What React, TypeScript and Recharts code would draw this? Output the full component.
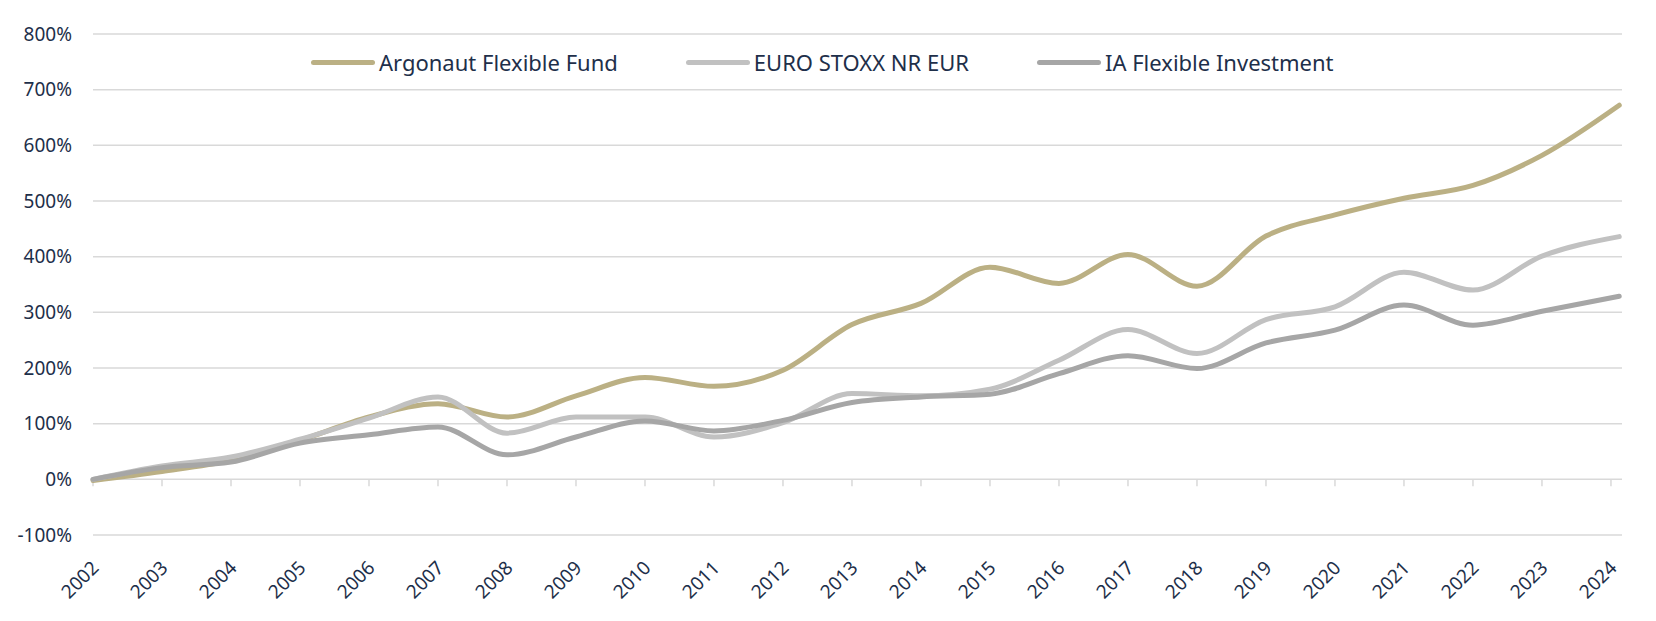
import {
  LineChart,
  Line,
  XAxis,
  YAxis,
  CartesianGrid,
  Legend,
  ReferenceLine,
} from "recharts";

// x position of each reading (last reading is early 2024)
const years = [
  2002, 2003, 2004, 2005, 2006, 2007, 2008, 2009, 2010, 2011, 2012, 2013,
  2014, 2015, 2016, 2017, 2018, 2019, 2020, 2021, 2022, 2023, 2024.12,
];

// cumulative return, %
const argonautFlexibleFund = [
  -2, 14, 34, 70, 112, 136, 112, 150, 183, 167, 196, 278, 316, 381, 352, 404,
  347, 437, 475, 505, 528, 582, 672,
];
const euroStoxxNrEur = [
  0, 24, 40, 72, 110, 148, 83, 112, 112, 76, 102, 154, 150, 162, 214, 269, 226,
  287, 310, 372, 340, 401, 436,
];
const iaFlexibleInvestment = [
  0, 21, 31, 65, 80, 94, 44, 76, 105, 87, 106, 138, 148, 153, 190, 222, 199,
  245, 268, 313, 277, 302, 329,
];

const yearTicks = [
  2002, 2003, 2004, 2005, 2006, 2007, 2008, 2009, 2010, 2011, 2012, 2013,
  2014, 2015, 2016, 2017, 2018, 2019, 2020, 2021, 2022, 2023, 2024,
];
const percentTicks = [-100, 0, 100, 200, 300, 400, 500, 600, 700, 800];

const seriesInfo = [
  { key: "argonaut", name: "Argonaut Flexible Fund", color: "#BBB084" },
  { key: "euroStoxx", name: "EURO STOXX NR EUR", color: "#C1C1C1" },
  { key: "ia", name: "IA Flexible Investment", color: "#A6A6A6" },
];

const data = years.map((year, i) => ({
  year,
  argonaut: argonautFlexibleFund[i],
  euroStoxx: euroStoxxNrEur[i],
  ia: iaFlexibleInvestment[i],
}));

const TEXT = "#1e2f4a";
const GRID = "#d9d9d9";
const FONT = "'Noto Sans', sans-serif";

const YearTick = ({ x, y, payload }: any) => {
  const tx = x + 7;
  const ty = y + 34;
  return (
    <text
      x={tx}
      y={ty}
      textAnchor="end"
      fill={TEXT}
      fontSize={19}
      fontFamily={FONT}
      transform={`rotate(-45, ${tx}, ${ty})`}
    >
      {payload.value}
    </text>
  );
};

const LegendRow = () => (
  <div
    style={{
      display: "flex",
      alignItems: "center",
      gap: 68,
      fontFamily: FONT,
      fontSize: 22,
      color: TEXT,
      whiteSpace: "nowrap",
    }}
  >
    {seriesInfo.map((s) => (
      <div
        key={s.key}
        style={{ display: "flex", alignItems: "center", gap: 4 }}
      >
        <span
          style={{
            display: "inline-block",
            width: 64,
            height: 5,
            borderRadius: 3,
            background: s.color,
          }}
        />
        <span>{s.name}</span>
      </div>
    ))}
  </div>
);

const App = () => {
  return (
    <LineChart
      width={1640}
      height={605}
      data={data}
      margin={{ top: 26, right: 26, bottom: 0, left: 0 }}
      style={{ fontFamily: FONT }}
    >
      <CartesianGrid vertical={false} stroke={GRID} strokeWidth={1.5} />
      <XAxis
        dataKey="year"
        type="number"
        domain={[2002, 2024.16]}
        ticks={yearTicks}
        interval={0}
        axisLine={false}
        tickLine={false}
        tickSize={0}
        tickMargin={0}
        height={78}
        tick={<YearTick />}
      />
      <YAxis
        domain={[-100, 800]}
        ticks={percentTicks}
        interval={0}
        tickFormatter={(v) => `${v}%`}
        width={85}
        axisLine={false}
        tickLine={false}
        tickSize={0}
        tickMargin={21}
        tick={{ fill: TEXT, fontSize: 19 }}
      />
      {yearTicks.map((yr) => (
        <ReferenceLine
          key={yr}
          segment={[
            { x: yr, y: 0 },
            { x: yr, y: -12.5 },
          ]}
          stroke={GRID}
          strokeWidth={1.5}
        />
      ))}
      <Legend
        verticalAlign="middle"
        align="center"
        layout="horizontal"
        content={<LegendRow />}
        wrapperStyle={{ top: 39, left: 303, width: "auto", height: "auto" }}
      />
      {seriesInfo.map((s) => (
        <Line
          key={s.key}
          type="monotone"
          dataKey={s.key}
          name={s.name}
          stroke={s.color}
          strokeWidth={5}
          strokeLinecap="round"
          dot={false}
          activeDot={false}
          isAnimationActive={false}
        />
      ))}
    </LineChart>
  );
};

export default App;
